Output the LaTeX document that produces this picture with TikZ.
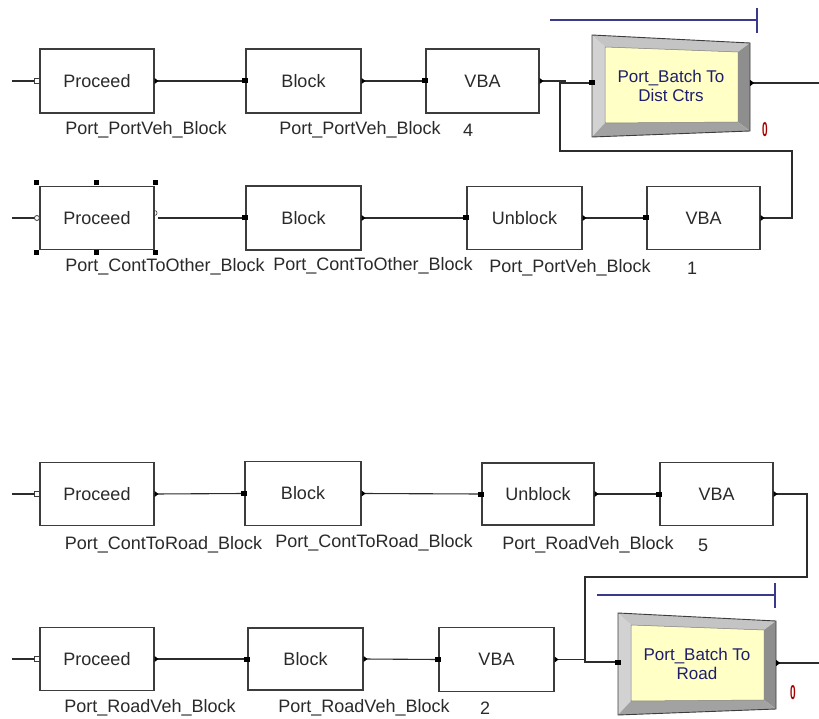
\documentclass[tikz,border=0pt]{standalone}
\usepackage{fontspec}
\usepackage{graphicx}
\setmainfont{Liberation Sans}
\usetikzlibrary{calc}

\definecolor{boxline}{HTML}{3C3C3C}
\definecolor{wirec}{HTML}{2C2C2C}
\definecolor{txt}{HTML}{2A2A2A}
\definecolor{navytxt}{HTML}{1E1E6E}
\definecolor{bluebar}{HTML}{3A3A8C}
\definecolor{countred}{HTML}{A80000}
\definecolor{yel}{HTML}{FFFFC6}
\definecolor{bevtop}{HTML}{C4C4C4}
\definecolor{bevleft}{HTML}{D2D2D2}
\definecolor{bevright}{HTML}{8E8E8E}
\definecolor{bevbot}{HTML}{A2A2A2}

\tikzset{
  blk/.style={draw=boxline, line width=1.1pt, minimum width=114pt, minimum height=64pt,
              inner sep=0pt, font=\fontsize{18}{20}\selectfont, text=txt},
  lbl/.style={inner sep=0pt, font=\fontsize{18}{20}\selectfont, text=txt},
  batchtxt/.style={inner sep=0pt, minimum width=158pt, minimum height=102pt, align=center,
              font=\fontsize{17}{19}\selectfont, text=navytxt},
  wire/.style={draw=wirec, line width=1.1pt},
  counter/.style={inner sep=0pt, text=countred, font=\fontsize{20}{20}\selectfont\bfseries},
  bar/.style={draw=bluebar, line width=1.2pt},
  inport/.pic={\fill[black] (-3,-2.5) rectangle (3,2.5);},
  outport/.pic={\fill[black] (0,-3) -- (4,0) -- (0,3) -- cycle;},
  procin/.pic={\draw[boxline, fill=white, line width=0.8pt] (-5,-2.5) rectangle (0,2.5);},
  handle/.pic={\fill[black] (-2.5,-2.5) rectangle (2.5,2.5);},
  bevel/.pic={
    \fill[bevtop]   (0,0) -- (158,8) -- (146,17) -- (13,12) -- cycle;
    \fill[bevleft]  (0,0) -- (13,12) -- (13,88) -- (0,102) -- cycle;
    \fill[bevright] (158,8) -- (158,96) -- (146,87) -- (146,17) -- cycle;
    \fill[bevbot]   (0,102) -- (13,88) -- (146,87) -- (158,96) -- cycle;
    \fill[yel] (13,12) -- (146,17) -- (146,87) -- (13,88) -- cycle;
    \draw[boxline, line width=0.9pt] (0,0) -- (158,8) -- (158,96) -- (0,102) -- cycle;
    \draw[boxline!70, line width=0.5pt] (13,12) -- (146,17) -- (146,87) -- (13,88) -- cycle;
  }
}

\begin{document}
\begin{tikzpicture}[x=1pt,y=-1pt]
\useasboundingbox[fill=white] (0,0) rectangle (819,719);

% ---------- row 1 ----------
\node[blk] (p1) at (97,81) {Proceed};
\node[blk, minimum width=115pt] (k1) at (303.5,81) {Block};
\node[blk, minimum width=113pt] (v1) at (482.5,81) {VBA};
\pic at (592,35) {bevel};
\node[batchtxt] (b1) at (671,86) {Port\_Batch To\\Dist Ctrs};
\coordinate (b1in) at ($(b1.west)+(0,-3)$);
\coordinate (b1out) at ($(b1.east)+(0,-3)$);

\node[lbl] (l1a) at (146,130) {Port\_PortVeh\_Block};
\node[lbl] (l1b) at (360,130) {Port\_PortVeh\_Block};
\node[lbl] (l1c) at (468,130) {4};
\node[counter] (c1) at (765,130) {\scalebox{0.5}[1]{0}};
\coordinate (bar1a) at (550,20);
\coordinate (bar1b) at (757,20);
\coordinate (bar1t) at (757,8);
\coordinate (bar1u) at (757,33);
\draw[bar] (bar1a) -- (bar1b);
\draw[bar] (bar1t) -- (bar1u);

% ---------- row 2 ----------
\node[blk, minimum height=63pt] (p2) at (97,218) {Proceed};
\node[blk, minimum width=115pt] (k2) at (303.5,218) {Block};
\node[blk, minimum width=115pt, minimum height=63pt] (u2) at (524.5,218) {Unblock};
\node[blk, minimum width=113pt, minimum height=63pt] (v2) at (703.5,218) {VBA};

\node[lbl] (l2a) at (165,267) {Port\_ContToOther\_Block};
\node[lbl] (l2b) at (373,266) {Port\_ContToOther\_Block};
\node[lbl] (l2c) at (570,268) {Port\_PortVeh\_Block};
\node[lbl] (l2d) at (692,268) {1};

% ---------- row 3 ----------
\node[blk, minimum height=63pt] (p3) at (97,494) {Proceed};
\node[blk, minimum width=116pt] (k3) at (303,493.5) {Block};
\node[blk, minimum width=112pt, minimum height=62pt] (u3) at (538,494) {Unblock};
\node[blk, minimum width=113pt, minimum height=63pt] (v3) at (716.5,494) {VBA};

\node[lbl] (l3a) at (163.5,545) {Port\_ContToRoad\_Block};
\node[lbl] (l3b) at (374,543) {Port\_ContToRoad\_Block};
\node[lbl] (l3c) at (588,545) {Port\_RoadVeh\_Block};
\node[lbl] (l3d) at (703,545) {5};

% ---------- row 4 ----------
\node[blk, minimum height=63pt] (p4) at (97,659) {Proceed};
\node[blk, minimum width=115pt, minimum height=62pt] (k4) at (305.5,659) {Block};
\node[blk, minimum width=115pt] (v4) at (496.5,659.5) {VBA};
\pic at (618,613) {bevel};
\node[batchtxt] (b2) at (697,664) {Port\_Batch To\\Road};
\coordinate (b2in) at ($(b2.west)+(0,-2)$);
\coordinate (b2out) at ($(b2.east)+(0,-1)$);

\node[lbl] (l4a) at (150,708) {Port\_RoadVeh\_Block};
\node[lbl] (l4b) at (364,708) {Port\_RoadVeh\_Block};
\node[lbl] (l4c) at (485,708) {2};
\node[counter] (c2) at (793,693) {\scalebox{0.5}[1]{0}};
\coordinate (bar2a) at (597,595);
\coordinate (bar2b) at (775,595);
\coordinate (bar2t) at (775,583);
\coordinate (bar2u) at (775,608);
\draw[bar] (bar2a) -- (bar2b);
\draw[bar] (bar2t) -- (bar2u);

% ---------- connectors ----------
\coordinate (s1) at (12,81);
\coordinate (s2) at (12,218);
\coordinate (s3) at (12,494);
\coordinate (s4) at (12,659);
\coordinate (e1) at (819,83);
\coordinate (e2) at (819,663);
\coordinate (j1) at (565,81);
\coordinate (f1) at (792,151);
\coordinate (f2) at (560,151);
\coordinate (j4) at (585,659.5);
\coordinate (f3) at (807,577);
\coordinate (f4) at (585,577);

\draw[wire] (s1) -- (p1.west);
\draw[wire] (p1.east) -- (k1.west);
\draw[wire] (k1.east) -- (v1.west);
\draw[wire] (v1.east) -- (j1) |- (b1in);
\draw[wire] (v2.east) -| (f1) -- (f2) |- (b1in);
\draw[wire] (b1out) -- (e1);

\draw[wire] (s2) -- (p2.west);
\draw[wire] (p2.east) -- (k2.west);
\draw[wire] (k2.east) -- (u2.west);
\draw[wire] (u2.east) -- (v2.west);

\draw[wire] (s3) -- (p3.west);
\draw[wire] (p3.east) -- (k3.west);
\draw[wire] (k3.east) -- (u3.west);
\draw[wire] (u3.east) -- (v3.west);
\draw[wire] (v3.east) -| (f3) -- (f4) |- (b2in);

\draw[wire] (s4) -- (p4.west);
\draw[wire] (p4.east) -- (k4.west);
\draw[wire] (k4.east) -- (v4.west);
\draw[wire] (v4.east) -- (j4) |- (b2in);
\draw[wire] (b2out) -- (e2);

% ---------- ports ----------
\pic at (p1.west) {procin};
\pic at (p3.west) {procin};
\pic at (p4.west) {procin};
\foreach \n in {p1,k1,v1,k2,u2,v2,p3,k3,u3,v3,p4,k4,v4} {\pic at (\n.east) {outport};}
\foreach \n in {k1,v1,k2,u2,v2,k3,u3,v3,k4,v4} {\pic at (\n.west) {inport};}
\pic at (b1in) {inport};
\pic at (b2in) {inport};
\pic at (b1out) {outport};
\pic at (b2out) {outport};

% selected module: open ports and grab handles
\draw[boxline, fill=white, line width=0.8pt] ($(p2.west)+(-2.5,0)$) circle[radius=2.5pt];
\fill[white] ($(p2.east)+(0,-3)$) rectangle ($(p2.east)+(3,3)$);
\draw[boxline, line width=0.6pt] ($(p2.east)+(0,-2.5)$) arc[start angle=-90, end angle=90, radius=2.5pt];
\pic at ($(p2.north west)+(-3,-3)$) {handle};
\pic at ($(p2.north)+(-1,-3)$) {handle};
\pic at ($(p2.north east)+(1,-3)$) {handle};
\pic at ($(p2.south west)+(-3,2)$) {handle};
\pic at ($(p2.south)+(-1,2)$) {handle};
\pic at ($(p2.south east)+(1,2)$) {handle};
\end{tikzpicture}
\end{document}
